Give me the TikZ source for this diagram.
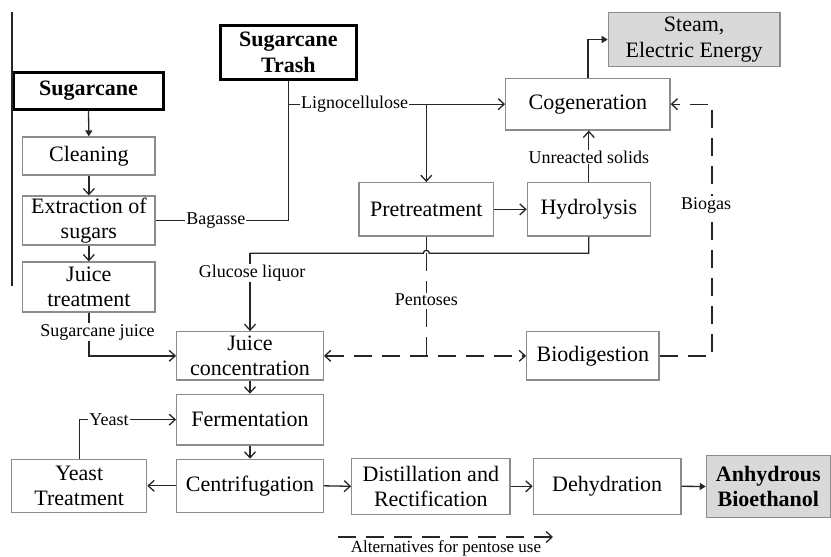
\documentclass[tikz,border=0pt]{standalone}
\usepackage{fontspec}
\setmainfont{Liberation Serif}
\usetikzlibrary{arrows.meta}
\newcommand{\boxfont}{\fontsize{22}{25.5}\selectfont}
\newcommand{\lblfont}{\fontsize{18}{20}\selectfont}
\newcommand{\legfont}{\fontsize{17}{19}\selectfont}
\tikzset{
  box/.style={draw=black!45, line width=1.2pt, inner sep=0pt, align=center, font=\boxfont},
  tbox/.style={draw=black, line width=3pt, inner sep=0pt, align=center, font=\boxfont\bfseries},
  gbox/.style={box, fill=black!15},
  lbl/.style={font=\lblfont, fill=white, inner sep=1pt},
  con/.style={draw=black!85, line width=1.3pt},
  dsh/.style={dash pattern=on 18pt off 10pt},
  oa/.style={-{Straight Barb[length=6pt,width=11pt]}},
  boa/.style={{Straight Barb[length=6pt,width=11pt]}-{Straight Barb[length=6pt,width=11pt]}},
  fa/.style={-{Triangle[length=6pt,width=7pt]}}
}
\begin{document}
\begin{tikzpicture}[x=1pt,y=-1pt]
\useasboundingbox (0,0) rectangle (831,557);
% nodes
\node[tbox, minimum width=150pt, minimum height=36.7pt] (cane) at (88.5,90.85) {Sugarcane};
\node[tbox, minimum width=135.7pt, minimum height=53.4pt] (trash) at (288.35,52.5) {Sugarcane\\Trash};
\node[box, minimum width=132.3pt, minimum height=38pt] (clean) at (88.85,156) {Cleaning};
\node[box, minimum width=132.3pt, minimum height=49pt] (extr) at (88.85,220.5) {Extraction of\\sugars};
\node[box, minimum width=132.3pt, minimum height=50pt] (jtreat) at (88.85,287) {Juice\\treatment};
\node[box, minimum width=134.7pt, minimum height=53.3pt] (pret) at (426.35,209.35) {Pretreatment};
\node[box, minimum width=123pt, minimum height=53.3pt] (hydro) at (588.8,209.35) {Hydrolysis};
\node[box, minimum width=164.3pt, minimum height=51.7pt] (cogen) at (587.85,104.15) {Cogeneration};
\node[gbox, minimum width=171.7pt, minimum height=54.4pt] (steam) at (694.15,39.5) {Steam,\\Electric Energy};
\node[box, minimum width=132.3pt, minimum height=48.3pt] (biodig) at (592.85,355.85) {Biodigestion};
\node[box, minimum width=146.6pt, minimum height=48.3pt] (jconc) at (250,355.85) {Juice\\concentration};
\node[box, minimum width=146.6pt, minimum height=50.7pt] (ferm) at (250,419.65) {Fermentation};
\node[box, minimum width=146.6pt, minimum height=53pt] (centr) at (250,485.8) {Centrifugation};
\node[box, minimum width=135pt, minimum height=53pt] (yeastt) at (79.2,485.8) {Yeast\\Treatment};
\node[box, minimum width=158.3pt, minimum height=56pt] (dist) at (430.85,486.3) {Distillation and\\Rectification};
\node[box, minimum width=147.7pt, minimum height=56pt] (dehyd) at (607.15,486.3) {Dehydration};
\node[gbox, font=\boxfont\bfseries, minimum width=124pt, minimum height=61.6pt] (anhyd) at (768.35,486.5) {Anhydrous\\Bioethanol};
% free coordinates
\coordinate (v1) at (12,12);
\coordinate (v2) at (12,286);
\coordinate (bgc) at (712,0);
\coordinate (glc) at (250,253.3);
\coordinate (la) at (338,537);
\coordinate (lb) at (553,537);
% connectors
\draw[con] (v1) -- (v2);
\draw[con, fa] (cane.south) -- (clean.north);
\draw[con, oa] (clean.south) -- (extr.north);
\draw[con, oa] (extr.south) -- (jtreat.north);
\draw[con] (extr.east) -- (trash.south |- extr.east) -- (trash.south);
\draw[con, oa] (trash.south |- cogen.west) -- (cogen.west);
\draw[con, oa] (pret.north |- cogen.west) -- (pret.north);
\draw[con, oa] (pret.east) -- (hydro.west);
\draw[con, oa] (hydro.north) -- (hydro.north |- cogen.south);
\draw[con, fa] (cogen.north) |- (steam.west);
\draw[con] (hydro.south) -- (hydro.south |- glc) -- (429.35,253.3) arc (0:-180:3) -- (glc);
\draw[con, oa] (glc) -- (jconc.north);
\draw[con] (pret.south) -- ++(0,14.3);
\draw[con, dsh] (pret.south |- glc) -- (pret.south |- jconc.east);
\draw[con, dsh, boa] (jconc.east) -- (biodig.west);
\draw[con, dsh, oa] (biodig.east) -- (biodig.east -| bgc) |- (cogen.east);
\draw[con, oa] (jtreat.south) |- (jconc.west);
\draw[con, oa] (jconc.south) -- (ferm.north);
\draw[con, oa] (ferm.south) -- (centr.north);
\draw[con, oa] (centr.west) -- (yeastt.east);
\draw[con, oa] (yeastt.north) |- (ferm.west);
\draw[con, oa] (centr.east) -- (dist.west);
\draw[con, oa] (dist.east) -- (dehyd.west);
\draw[con, fa] (dehyd.east) -- (anhyd.west);
\draw[con, dsh, oa] (la) -- (lb);
% labels
\node[lbl] (lbag) at (215.8,220.5) {Bagasse};
\node[lbl] (llig) at (354.7,104.15) {Lignocellulose};
\node[lbl] (lunr) at (588.8,157) {Unreacted solids};
\node[lbl] (lbio) at (706,205) {Biogas};
\node[lbl] (lglu) at (252,273) {Glucose liquor};
\node[lbl] (lpen) at (426.35,300) {Pentoses};
\node[lbl] (lsj) at (97.5,332) {Sugarcane juice};
\node[lbl] (lyst) at (109,419.65) {Yeast};
\node[font=\legfont, anchor=base, inner sep=0pt] (lleg) at (446,552) {Alternatives for pentose use};
\end{tikzpicture}
\end{document}
